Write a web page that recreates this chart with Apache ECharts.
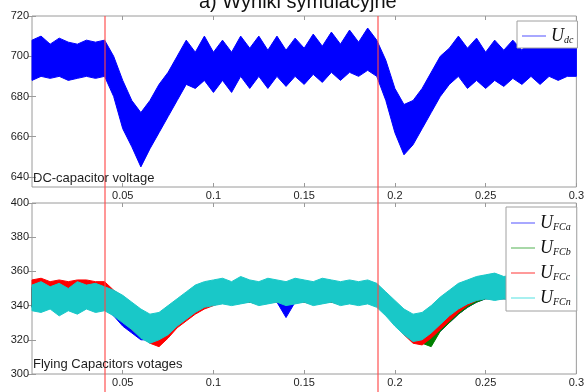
<!DOCTYPE html>
<html>
<head>
<meta charset="utf-8">
<script src="https://cdn.jsdelivr.net/npm/echarts@6/dist/echarts.min.js"></script>
<style>
  html, body { margin: 0; padding: 0; background: #fff; }
  #chart { width: 587px; height: 392px; }
</style>
</head>
<body>
<div id="chart"></div>
<script>
// time samples [s]
const tSec = [
  0, 0.005, 0.01, 0.015, 0.02, 0.025, 0.03, 0.035, 0.04, 0.045,
  0.05, 0.055, 0.06, 0.065, 0.07, 0.075, 0.08, 0.085, 0.09, 0.095,
  0.1, 0.105, 0.11, 0.115, 0.12, 0.125, 0.13, 0.135, 0.14, 0.145,
  0.15, 0.155, 0.16, 0.165, 0.17, 0.175, 0.18, 0.185, 0.19, 0.195,
  0.2, 0.205, 0.21, 0.215, 0.22, 0.225, 0.23, 0.235, 0.24, 0.245,
  0.25, 0.255, 0.26, 0.265, 0.27, 0.275, 0.28, 0.285, 0.29, 0.295, 0.3
];

// DC-capacitor voltage envelope (upper / lower)
const udcHi = [
  708, 710, 706, 709, 707, 706, 708, 707, 708, 700,
  688, 678, 672, 678, 686, 692, 700, 708, 702, 710,
  702, 708, 702, 710, 704, 710, 703, 710, 703, 709,
  704, 711, 705, 712, 706, 713, 707, 714, 708, 698,
  684, 676, 678, 684, 692, 700, 704, 710, 704, 709,
  702, 708, 703, 708, 703, 709, 704, 708, 704, 708, 706
];
const udcLo = [
  688, 690, 689, 690, 688, 689, 690, 689, 690, 680,
  664, 655, 645, 654, 662, 670, 678, 686, 684, 688,
  682, 688, 682, 690, 684, 690, 684, 690, 685, 690,
  686, 691, 687, 692, 688, 692, 690, 693, 690, 678,
  662, 651, 656, 664, 672, 680, 686, 690, 684, 688,
  684, 688, 685, 689, 686, 690, 686, 690, 688, 690, 690
];

// Flying capacitor voltages envelopes
const fcaHi = [
  351, 352, 351, 352, 351, 352, 351, 352, 351, 348,
  344, 340, 336, 333, 334, 338, 342, 346, 350, 352,
  353, 353, 353, 354, 353, 353, 354, 353, 353, 354,
  353, 353, 354, 353, 353, 354, 353, 353, 351, 346,
  341, 336, 333, 334, 338, 343, 347, 351, 353, 355,
  356, 356, 356, 356, 356, 356, 356, 356, 356, 356, 356
];
const fcaLo = [
  339, 339, 339, 339, 339, 339, 339, 339, 339, 334,
  328, 324, 320, 320, 321, 325, 330, 334, 338, 340,
  341, 342, 342, 342, 342, 342, 342, 342, 333, 342,
  342, 342, 342, 342, 342, 342, 342, 342, 340, 336,
  330, 325, 321, 320, 321, 325, 330, 335, 339, 342,
  344, 344, 344, 344, 344, 344, 344, 344, 344, 344, 344
];
const fcbHi = [
  350, 351, 350, 351, 350, 351, 350, 351, 350, 347,
  343, 339, 335, 332, 333, 337, 341, 345, 349, 351,
  352, 352, 352, 353, 352, 352, 353, 352, 352, 353,
  352, 352, 353, 352, 352, 353, 352, 352, 350, 345,
  340, 335, 332, 333, 337, 342, 346, 350, 352, 354,
  355, 355, 355, 355, 355, 355, 355, 355, 355, 355, 355
];
const fcbLo = [
  339, 338, 339, 338, 339, 338, 339, 338, 338, 335,
  331, 327, 323, 320, 320, 324, 329, 333, 337, 340,
  341, 342, 341, 342, 342, 341, 342, 342, 341, 342,
  342, 341, 342, 342, 341, 342, 341, 342, 340, 335,
  329, 324, 320, 318, 316, 325, 330, 335, 339, 342,
  344, 344, 344, 344, 344, 344, 344, 344, 344, 344, 344
];
const fccHi = [
  355, 356, 354, 355, 354, 355, 355, 354, 354, 349,
  345, 341, 337, 334, 335, 339, 343, 347, 351, 353,
  354, 354, 353, 355, 354, 353, 354, 354, 353, 354,
  354, 353, 354, 354, 353, 354, 353, 354, 352, 347,
  342, 337, 334, 335, 339, 344, 348, 352, 354, 355,
  356, 356, 355, 356, 356, 355, 356, 356, 355, 356, 355
];
const fccLo = [
  340, 339, 340, 339, 340, 339, 340, 339, 339, 336,
  331, 326, 322, 318, 316, 321, 327, 331, 335, 338,
  340, 342, 341, 342, 342, 341, 342, 342, 341, 342,
  342, 341, 342, 342, 341, 342, 341, 342, 340, 335,
  329, 323, 318, 317, 321, 326, 331, 336, 340, 343,
  345, 345, 345, 345, 345, 345, 345, 345, 345, 345, 345
];
const fcnHi = [
  352, 354, 351, 353, 350, 354, 352, 353, 351, 349,
  346, 342, 338, 335, 336, 340, 344, 348, 352, 354,
  355, 356, 354, 357, 355, 354, 356, 355, 354, 356,
  355, 354, 356, 355, 354, 355, 354, 355, 353, 348,
  343, 338, 335, 336, 340, 345, 349, 353, 355, 357,
  358, 359, 357, 358, 359, 357, 358, 359, 357, 358, 357
];
const fcnLo = [
  337, 336, 338, 334, 337, 335, 338, 336, 337, 334,
  330, 326, 321, 318, 320, 323, 328, 332, 336, 339,
  340, 341, 340, 341, 342, 340, 341, 342, 340, 341,
  342, 340, 341, 342, 340, 341, 340, 341, 339, 334,
  328, 323, 319, 320, 324, 329, 334, 338, 341, 343,
  344, 343, 344, 343, 344, 343, 344, 343, 344, 343, 344
];

// switching instants (red markers)
const switchTimes = [0.04, 0.19];

// axis ticks
const xTicks = [0.05, 0.1, 0.15, 0.2, 0.25, 0.3];
const udcTicks = [640, 660, 680, 700, 720];
const fcTicks = [300, 320, 340, 360, 380, 400];

const legendSub = { Udc: 'dc', UFCa: 'FCa', UFCb: 'FCb', UFCc: 'FCc', UFCn: 'FCn' };

const chart = echarts.init(document.getElementById('chart'));

const axisGray = '#9a9a9a';
const labelStyle = { color: '#1e1e1e', fontSize: 11, fontFamily: 'Liberation Sans, Arial, sans-serif' };

// band drawn as one polygon between upper and lower envelope
function band(name, hi, lo, color, gi) {
  return {
    name: name,
    type: 'custom',
    xAxisIndex: gi * 2,
    yAxisIndex: gi * 2,
    z: 2,
    silent: true,
    data: tSec.map((t, i) => [t, lo[i], hi[i]]),
    renderItem: function (params, api) {
      if (params.dataIndex !== 0) return;
      const pts = [];
      for (let i = 0; i < tSec.length; i++) pts.push(api.coord([tSec[i], hi[i]]));
      for (let i = tSec.length - 1; i >= 0; i--) pts.push(api.coord([tSec[i], lo[i]]));
      return {
        type: 'polygon',
        shape: { points: pts },
        style: { fill: color, stroke: color, lineWidth: 1 }
      };
    }
  };
}

function legendSeries(name, color, gi) {
  return {
    name: name, type: 'line', xAxisIndex: gi * 2, yAxisIndex: gi * 2,
    data: [], symbol: 'none',
    lineStyle: { color: color, width: 1.5 }, itemStyle: { color: color }
  };
}

function xAxes(gi, showLabels) {
  return [
    {
      gridIndex: gi, type: 'value', min: 0, max: 0.3, position: 'bottom',
      axisLine: { show: false }, splitLine: { show: false },
      axisTick: { inside: true, length: 4, lineStyle: { color: axisGray }, customValues: xTicks },
      axisLabel: Object.assign({ show: showLabels, margin: 3, customValues: xTicks }, labelStyle)
    },
    {
      gridIndex: gi, type: 'value', min: 0, max: 0.3, position: 'top',
      axisLine: { show: false }, splitLine: { show: false },
      axisTick: { inside: true, length: 4, lineStyle: { color: axisGray }, customValues: xTicks },
      axisLabel: { show: false }
    }
  ];
}

function yAxes(gi, min, max, ticks) {
  return [
    {
      gridIndex: gi, type: 'value', min: min, max: max, position: 'left',
      axisLine: { show: false }, splitLine: { show: false },
      axisTick: { inside: true, length: 4, lineStyle: { color: axisGray }, customValues: ticks },
      axisLabel: Object.assign({ margin: 3, customValues: ticks }, labelStyle)
    },
    {
      gridIndex: gi, type: 'value', min: min, max: max, position: 'right',
      axisLine: { show: false }, splitLine: { show: false },
      axisTick: { inside: true, length: 4, lineStyle: { color: axisGray }, customValues: ticks },
      axisLabel: { show: false }
    }
  ];
}

const legendRich = {
  u: { fontSize: 18, fontStyle: 'italic', fontFamily: 'Liberation Serif, serif', color: '#111', lineHeight: 18, verticalAlign: 'top' },
  s: { fontSize: 10, fontStyle: 'italic', fontFamily: 'Liberation Serif, serif', color: '#111', lineHeight: 11, padding: [11, 0, 0, 0], verticalAlign: 'bottom' }
};

function legendBox(names, left, top, padding) {
  return {
    data: names, orient: 'vertical', left: left, top: top, z: 20,
    padding: padding, itemWidth: 24, itemHeight: 14, itemGap: 4,
    backgroundColor: '#fff', borderColor: '#a0a0a0', borderWidth: 1, borderRadius: 0,
    itemStyle: { opacity: 0 },
    formatter: name => '{u|U}{s|' + legendSub[name] + '}',
    textStyle: { rich: legendRich }
  };
}

const option = {
  backgroundColor: '#fff',
  animation: false,
  title: [
    { text: 'a) Wyniki symulacyjne', left: 199, top: -8, padding: 0,
      textStyle: { fontSize: 20, fontWeight: 'normal', color: '#111', fontFamily: 'Liberation Sans, Arial, sans-serif' } },
    { text: 'DC-capacitor voltage', left: 33, top: 172, padding: 0,
      textStyle: { fontSize: 13, fontWeight: 'normal', color: '#1e1e1e', fontFamily: 'Liberation Sans, Arial, sans-serif' } },
    { text: 'Flying Capacitors votages', left: 33, top: 358, padding: 0,
      textStyle: { fontSize: 13, fontWeight: 'normal', color: '#1e1e1e', fontFamily: 'Liberation Sans, Arial, sans-serif' } }
  ],
  legend: [
    legendBox(['Udc'], 517, 21, [3, 4, 3, 4]),
    legendBox(['UFCa', 'UFCb', 'UFCc', 'UFCn'], 506, 207, [4, 6, 4, 4])
  ],
  grid: [
    { left: 32, right: 9, top: 16, height: 171, show: true, borderColor: axisGray, borderWidth: 1, backgroundColor: 'transparent' },
    { left: 32, right: 9, top: 203, height: 171, show: true, borderColor: axisGray, borderWidth: 1, backgroundColor: 'transparent' },
    { left: 32, right: 9, top: 16, bottom: 0 }
  ],
  xAxis: [].concat(
    xAxes(0, true), xAxes(1, true),
    [{ gridIndex: 2, type: 'value', min: 0, max: 0.3, show: false }]
  ),
  yAxis: [].concat(
    yAxes(0, 635, 720, udcTicks), yAxes(1, 300, 400, fcTicks),
    [{ gridIndex: 2, type: 'value', min: 0, max: 1, show: false }]
  ),
  series: [
    band('udcBand', udcHi, udcLo, '#0000ff', 0),
    band('fcaBand', fcaHi, fcaLo, '#0000ff', 1),
    band('fcbBand', fcbHi, fcbLo, '#008000', 1),
    band('fccBand', fccHi, fccLo, '#ff0000', 1),
    band('fcnBand', fcnHi, fcnLo, '#19c8c8', 1),
    legendSeries('Udc', '#a8a8ff', 0),
    legendSeries('UFCa', '#a8a8ff', 1),
    legendSeries('UFCb', '#a8d8a8', 1),
    legendSeries('UFCc', '#ff9a9a', 1),
    legendSeries('UFCn', '#a8f0f0', 1),
    {
      name: 'switch', type: 'line', xAxisIndex: 4, yAxisIndex: 4, data: [], z: 10,
      markLine: {
        silent: true, symbol: 'none', label: { show: false },
        lineStyle: { color: 'rgba(255,70,70,0.75)', width: 1.5, type: 'solid' },
        data: switchTimes.map(t => ({ xAxis: t }))
      }
    }
  ]
};

chart.setOption(option);
</script>
</body>
</html>
